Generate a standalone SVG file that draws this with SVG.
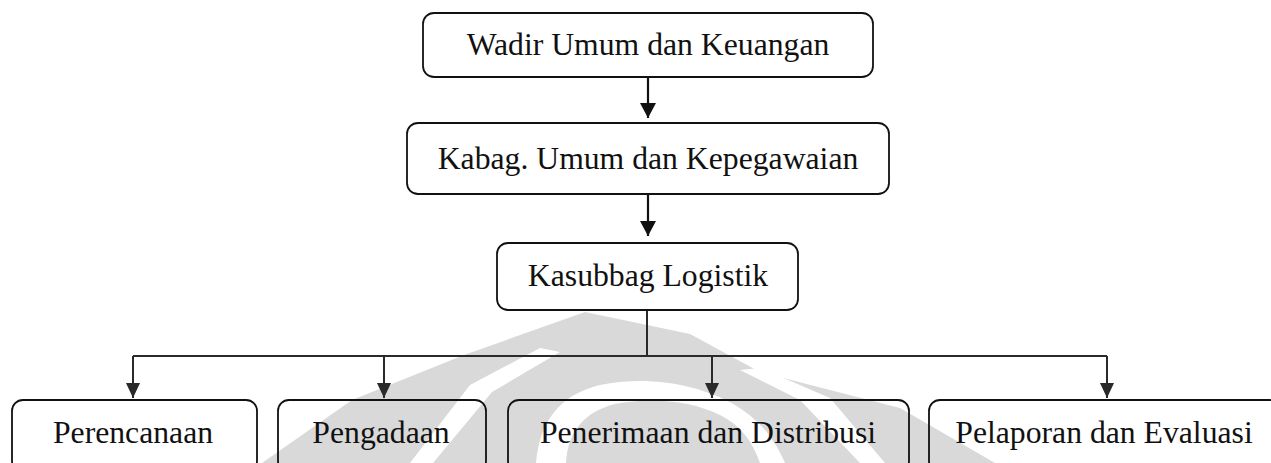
<svg xmlns="http://www.w3.org/2000/svg" width="1271" height="463" viewBox="0 0 1271 463">
  <style>
    .box { fill: none; stroke: #111; stroke-width: 1.8; }
    .lbl { font-family: "Liberation Serif", "Times New Roman", serif; font-size: 31.7px; fill: #111; text-anchor: middle; }
    .conn { fill: none; stroke: #111; stroke-width: 2.2; }
    .conn2 { fill: none; stroke: #2a2a2a; stroke-width: 2; }
    .wm { fill: #d9d9d9; }
    .wmcut { fill: #ffffff; }
  </style>
  <defs>
    <marker id="ah" markerUnits="userSpaceOnUse" viewBox="0 0 15 16" markerWidth="15" markerHeight="16" refX="15" refY="8" orient="auto">
      <path d="M0,0 L15,8 L0,16 Z" fill="#111"/>
    </marker>
    <marker id="ah2" markerUnits="userSpaceOnUse" viewBox="0 0 15 14" markerWidth="15" markerHeight="14" refX="15" refY="7" orient="auto">
      <path d="M0,0 L15,7 L0,14 Z" fill="#2a2a2a"/>
    </marker>
  </defs>
  <rect width="1271" height="463" fill="#ffffff"/>

  <g id="watermark">
    <path class="wm" d="M585,312 L690,334 L760,372 L900,408 L995,463 L262,463 L352,400 L464,355 Z"/>
    <path class="wmcut" d="M410,463 L470,385 L540,348 L560,352 L492,392 L433,463 Z"/>
    <path class="wmcut" d="M536,463 C540,420 560,395 600,385 C650,375 700,385 735,405 C760,420 775,440 785,463 L760,463 C752,440 740,425 720,415 C690,400 650,397 615,404 C585,412 568,430 566,463 Z"/>
    <path class="wmcut" d="M860,463 L800,400 L740,370 L760,368 L830,398 L885,463 Z"/>
  </g>

  <g id="connectors">
    <path class="conn" d="M648,77 V118" marker-end="url(#ah)"/>
    <path class="conn" d="M648,194 V236" marker-end="url(#ah)"/>
    <path class="conn2" d="M647,310 V356"/>
    <path class="conn2" d="M133,356 H1107"/>
    <path class="conn2" d="M133,356 V398" marker-end="url(#ah2)"/>
    <path class="conn2" d="M384,356 V398" marker-end="url(#ah2)"/>
    <path class="conn2" d="M712,356 V398" marker-end="url(#ah2)"/>
    <path class="conn2" d="M1107,356 V398" marker-end="url(#ah2)"/>
  </g>

  <g id="node-wadir">
    <rect class="box" x="423" y="13" width="450" height="64" rx="11"/>
    <text class="lbl" x="648" y="55">Wadir Umum dan Keuangan</text>
  </g>
  <g id="node-kabag">
    <rect class="box" x="407" y="123" width="482" height="71" rx="11"/>
    <text class="lbl" x="648" y="169">Kabag. Umum dan Kepegawaian</text>
  </g>
  <g id="node-kasubbag">
    <rect class="box" x="497" y="243" width="301" height="67" rx="11"/>
    <text class="lbl" x="648" y="286">Kasubbag Logistik</text>
  </g>
  <g id="node-perencanaan">
    <rect class="box" x="12" y="400" width="245" height="72" rx="11"/>
    <text class="lbl" x="133" y="443">Perencanaan</text>
  </g>
  <g id="node-pengadaan">
    <rect class="box" x="278" y="400" width="208" height="72" rx="11"/>
    <text class="lbl" x="381" y="443">Pengadaan</text>
  </g>
  <g id="node-penerimaan">
    <rect class="box" x="508" y="400" width="401" height="72" rx="11"/>
    <text class="lbl" x="708" y="443">Penerimaan dan Distribusi</text>
  </g>
  <g id="node-pelaporan">
    <rect class="box" x="929" y="400" width="352" height="72" rx="11"/>
    <text class="lbl" x="1104" y="443">Pelaporan dan Evaluasi</text>
  </g>
</svg>
